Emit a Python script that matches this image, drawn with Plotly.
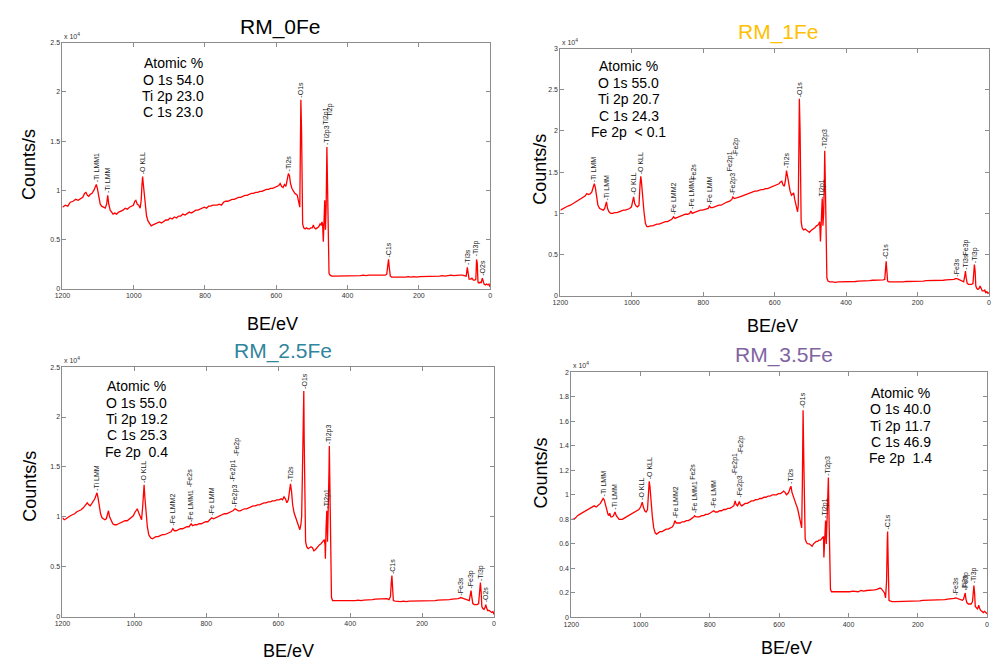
import plotly.graph_objects as go

# ---------------- data (BE in eV, intensity in 10^4 counts/s) ----------------
be_0fe = [1200,1192,1185,1178,1170,1163,1156,1149,1143,1138,1134,1130,1126,1122,1117,1112,1108,1105,1102,1098,
          1094,1090,1085,1080,1076,1073,1070,1066,1062,1058,1053,1048,1042,1036,1030,1024,1018,1012,1006,1001,
          997,994,990,986,982,979,977,975,973,970,967,964,960,956,951,946,940,934,928,922,916,910,904,898,892,
          886,880,874,868,862,856,850,844,838,832,826,820,814,808,802,796,790,784,778,772,766,760,754,748,742,
          736,730,724,718,712,706,700,694,688,682,676,670,664,658,652,646,640,634,628,622,616,610,604,598,593,
          589,585,581,577,573,569,566,563,560,556,552,548,544,541,538,536,534,533,531,529,528,526,523,519,515,
          511,507,503,499,496,493,489,485,481,477,474,472,470,468,466,464,462,460,458,456,454,452,449,444,436,
          428,420,412,404,396,388,380,372,364,356,348,340,332,324,316,308,300,294,290,287,285,283,280,276,270,
          262,254,246,238,230,222,214,206,198,190,182,174,166,158,150,142,134,126,118,110,102,94,86,78,72,67,
          64,62,59,55,51,47,43,40,38,36,34,31,28,25,22,20,17,13,10,6,3,0]
cts_0fe = [0.83,0.85,0.84,0.88,0.89,0.91,0.90,0.92,0.93,0.97,0.98,0.95,0.94,0.96,0.97,1.00,1.04,1.06,1.02,0.92,
           0.86,0.84,0.83,0.82,0.86,0.95,0.86,0.80,0.78,0.76,0.77,0.76,0.78,0.79,0.80,0.82,0.81,0.83,0.84,0.85,
           0.89,0.90,0.86,0.85,0.82,0.90,1.05,1.14,1.06,0.93,0.82,0.74,0.69,0.66,0.64,0.65,0.66,0.67,0.68,0.67,0.69,0.70,0.70,0.72,0.71,
           0.73,0.72,0.74,0.74,0.76,0.75,0.77,0.78,0.77,0.79,0.80,0.80,0.81,0.82,0.83,0.82,0.84,0.84,0.85,0.85,0.85,0.86,0.85,0.88,0.89,
           0.89,0.90,0.91,0.91,0.92,0.93,0.93,0.94,0.95,0.95,0.96,0.97,0.97,0.98,0.98,0.99,0.99,1.00,1.01,1.01,1.02,1.02,1.03,1.04,1.05,
           1.07,1.04,1.03,1.06,1.04,1.10,1.17,1.15,1.07,1.02,0.99,0.97,0.96,0.95,0.90,0.86,0.83,1.20,1.92,1.60,0.80,0.66,0.62,0.61,0.62,
           0.61,0.61,0.62,0.62,0.65,0.62,0.61,0.62,0.63,0.66,0.65,0.68,0.66,0.48,0.70,0.90,0.60,0.85,1.44,1.10,0.50,0.16,0.14,0.13,0.13,
           0.13,0.135,0.13,0.135,0.13,0.135,0.13,0.135,0.135,0.14,0.135,0.14,0.14,0.14,0.14,0.145,0.14,0.14,0.15,0.24,0.30,0.22,0.13,0.12,0.12,
           0.115,0.12,0.12,0.12,0.125,0.12,0.125,0.12,0.125,0.125,0.13,0.125,0.13,0.13,0.13,0.13,0.135,0.13,0.135,0.14,0.135,0.14,0.14,0.14,0.135,0.13,
           0.22,0.18,0.10,0.10,0.11,0.09,0.09,0.10,0.30,0.26,0.07,0.06,0.07,0.06,0.11,0.09,0.05,0.04,0.05,0.04,0.05,0.02]

be_1fe = [1200,1193,1186,1179,1172,1165,1158,1151,1144,1137,1131,1126,1121,1116,1112,1108,1105,1102,1099,1095,
          1090,1085,1080,1076,1073,1071,1068,1064,1059,1054,1048,1042,1036,1030,1024,1018,1012,1006,1001,997,
          995,992,988,984,980,977,975,973,970,966,962,958,953,948,942,936,930,924,918,912,906,900,894,888,883,
          879,874,868,862,856,850,844,838,835,831,826,820,814,808,802,796,790,786,783,779,774,768,762,756,750,
          744,738,732,726,720,717,713,708,703,698,692,686,680,674,668,662,656,650,644,638,632,626,620,614,608,
          602,597,592,588,584,580,577,573,570,567,564,561,557,553,550,547,544,541,538,536,534,532,531,529,528,
          526,523,519,515,511,507,503,499,495,491,487,483,479,476,474,472,470,468,467,465,463,461,460,458,456,
          454,451,446,438,430,422,414,406,398,390,382,374,366,358,350,342,334,326,318,310,302,296,292,290,288,
          286,284,280,272,264,256,248,240,232,224,216,208,200,192,184,176,168,160,152,144,136,128,120,112,104,
          98,94,90,85,80,75,71,68,66,64,61,57,53,49,45,42,41,39,37,34,31,28,25,22,19,15,12,9,6,3,0]
cts_1fe = [1.04,1.06,1.07,1.09,1.10,1.12,1.14,1.15,1.17,1.19,1.21,1.24,1.23,1.24,1.26,1.32,1.36,1.31,1.20,1.10,
           1.06,1.05,1.04,1.06,1.12,1.14,1.06,1.02,1.00,1.00,1.01,1.01,1.02,1.03,1.04,1.04,1.05,1.06,1.08,1.17,
           1.20,1.12,1.09,1.08,1.10,1.35,1.45,1.38,1.20,1.02,0.88,0.84,0.84,0.85,0.85,0.86,0.87,0.87,0.88,0.89,0.90,0.90,0.92,0.93,0.96,
           0.94,0.95,0.96,0.97,0.98,0.99,0.99,1.00,1.03,1.00,1.01,1.02,1.03,1.04,1.04,1.05,1.06,1.06,1.09,1.07,1.07,1.08,1.09,1.10,1.10,
           1.12,1.13,1.14,1.15,1.17,1.20,1.18,1.19,1.20,1.20,1.21,1.22,1.23,1.24,1.25,1.26,1.27,1.27,1.28,1.29,1.29,1.30,1.30,1.31,1.32,
           1.33,1.34,1.35,1.36,1.38,1.39,1.35,1.33,1.40,1.52,1.45,1.34,1.27,1.22,1.24,1.25,1.17,1.10,1.04,1.02,1.10,2.00,2.39,2.00,1.20,
           0.90,0.82,0.80,0.81,0.80,0.78,0.77,0.79,0.80,0.82,0.83,0.85,0.86,0.88,0.90,0.66,0.90,1.05,1.18,0.85,1.00,1.40,1.76,1.30,0.60,
           0.22,0.18,0.17,0.17,0.165,0.17,0.17,0.17,0.175,0.17,0.175,0.175,0.18,0.18,0.18,0.185,0.185,0.19,0.19,0.19,0.195,0.195,0.20,0.30,0.42,
           0.30,0.18,0.17,0.17,0.165,0.17,0.17,0.17,0.175,0.175,0.175,0.18,0.18,0.18,0.18,0.185,0.185,0.185,0.19,0.19,0.19,0.19,0.195,0.195,0.20,
           0.20,0.21,0.21,0.20,0.19,0.18,0.17,0.24,0.30,0.22,0.15,0.14,0.14,0.14,0.15,0.33,0.38,0.30,0.12,0.09,0.08,0.09,0.12,0.09,0.06,0.06,0.07,0.04,0.05,0.03,0.04]

be_25fe = [1200,1195,1190,1184,1178,1172,1166,1160,1154,1148,1142,1136,1131,1127,1123,1119,1115,1110,1106,1104,
           1101,1098,1094,1090,1086,1082,1078,1075,1072,1069,1065,1060,1055,1050,1044,1038,1032,1026,1020,1014,
           1008,1003,999,995,992,988,984,980,977,975,973,971,968,964,960,955,950,945,940,934,928,922,916,910,904,
           898,893,889,884,878,872,866,860,854,848,842,838,832,826,820,814,808,802,796,790,785,780,774,768,762,
           756,750,744,738,732,726,720,716,711,706,700,694,688,682,676,670,664,658,652,646,640,634,628,622,616,
           610,604,598,592,588,584,580,576,572,569,566,563,560,556,552,548,545,542,540,537,535,533,531,529,528,
           526,524,521,517,513,509,505,501,497,493,489,485,481,477,474,472,470,469,467,465,463,461,459,458,456,
           454,452,449,442,434,426,418,410,402,394,386,378,370,362,354,346,338,330,322,314,306,298,292,288,286,
           284,282,280,275,268,260,252,244,236,228,220,212,204,196,188,180,172,164,156,148,140,132,124,116,108,
           100,96,92,88,83,78,73,69,66,64,62,59,55,51,47,43,40,38,36,34,31,28,25,23,21,18,14,10,6,3,0]
cts_25fe = [0.99,0.97,0.98,1.00,1.01,1.02,1.03,1.05,1.06,1.07,1.09,1.12,1.14,1.12,1.11,1.13,1.15,1.18,1.22,1.24,
            1.19,1.10,1.03,0.99,0.98,0.97,0.98,1.03,1.06,1.00,0.96,0.93,0.92,0.92,0.93,0.94,0.95,0.96,0.96,0.98,
            0.99,1.01,1.04,1.07,1.08,1.04,1.00,0.97,1.10,1.25,1.32,1.20,1.05,0.90,0.82,0.79,0.78,0.79,0.80,0.80,0.81,0.82,0.82,0.83,0.84,
            0.85,0.88,0.86,0.86,0.87,0.88,0.88,0.89,0.90,0.90,0.93,0.91,0.92,0.92,0.93,0.93,0.94,0.95,0.95,0.97,0.99,0.98,0.99,1.00,1.01,
            1.02,1.03,1.03,1.04,1.05,1.06,1.08,1.07,1.06,1.06,1.07,1.08,1.08,1.09,1.10,1.11,1.11,1.12,1.12,1.13,1.14,1.14,1.15,1.15,1.16,
            1.16,1.17,1.17,1.18,1.17,1.20,1.18,1.14,1.17,1.25,1.33,1.25,1.12,1.04,1.00,0.96,0.93,0.88,0.87,0.92,1.00,1.40,2.00,2.26,1.80,
            1.00,0.75,0.70,0.68,0.69,0.70,0.69,0.66,0.67,0.69,0.70,0.72,0.73,0.75,0.76,0.77,0.72,0.58,0.90,1.06,0.75,1.00,1.45,1.71,1.20,
            0.50,0.19,0.16,0.16,0.155,0.155,0.16,0.155,0.16,0.16,0.16,0.165,0.16,0.165,0.165,0.17,0.17,0.175,0.175,0.18,0.18,0.18,0.17,0.20,0.33,
            0.41,0.28,0.16,0.155,0.15,0.15,0.155,0.15,0.155,0.155,0.155,0.155,0.155,0.16,0.155,0.16,0.16,0.16,0.165,0.165,0.17,0.17,0.17,0.175,0.175,
            0.18,0.185,0.19,0.185,0.18,0.17,0.165,0.16,0.22,0.26,0.20,0.13,0.12,0.12,0.12,0.13,0.28,0.34,0.25,0.10,0.08,0.07,0.09,0.12,0.09,0.06,0.06,0.05,0.04,0.05,0.02]

be_35fe = [1200,1194,1188,1182,1176,1170,1164,1158,1152,1146,1140,1134,1128,1124,1120,1116,1112,1108,1105,1102,
           1098,1094,1091,1089,1086,1082,1078,1074,1070,1066,1062,1058,1053,1047,1041,1035,1029,1023,1017,1011,
           1005,1000,997,995,992,988,984,980,977,975,973,970,966,962,958,954,950,944,938,932,926,920,914,908,904,
           901,897,892,886,880,874,868,862,856,850,846,844,840,835,830,824,818,812,806,800,794,789,784,778,772,
           766,760,754,748,742,736,731,727,724,720,717,715,712,708,703,698,692,686,680,674,668,662,656,650,644,
           638,632,626,620,614,608,602,596,591,587,583,579,575,571,568,566,563,559,555,551,547,543,540,537,535,
           533,531,529,527,525,521,517,513,509,505,501,497,493,489,485,481,477,474,472,471,469,467,466,464,462,
           460,458,456,454,452,449,444,436,428,420,412,404,396,388,380,372,364,356,348,340,332,324,318,313,309,
           305,300,296,293,290,288,287,285,283,280,274,266,258,250,242,234,226,218,210,202,194,186,178,170,162,
           154,146,138,130,122,114,106,100,95,90,86,81,76,71,68,65,63,61,58,54,50,46,42,40,38,36,34,31,28,26,24,
           22,19,15,11,7,4,0]
cts_35fe = [0.80,0.80,0.81,0.83,0.84,0.85,0.86,0.87,0.88,0.89,0.90,0.91,0.90,0.91,0.92,0.93,0.95,0.97,0.96,0.92,
            0.87,0.84,0.83,0.85,0.82,0.82,0.83,0.86,0.83,0.81,0.80,0.80,0.80,0.81,0.82,0.83,0.84,0.85,0.86,0.87,
            0.88,0.90,0.93,0.94,0.90,0.87,0.86,0.88,1.02,1.11,1.07,0.95,0.82,0.73,0.69,0.68,0.69,0.70,0.70,0.71,0.72,0.72,0.73,0.74,0.76,
            0.79,0.77,0.77,0.77,0.78,0.78,0.79,0.79,0.80,0.81,0.82,0.83,0.82,0.82,0.82,0.83,0.83,0.84,0.84,0.85,0.86,0.87,0.86,0.86,0.87,
            0.87,0.88,0.88,0.89,0.89,0.90,0.91,0.95,0.92,0.91,0.93,0.945,0.92,0.91,0.92,0.93,0.93,0.94,0.95,0.95,0.96,0.96,0.97,0.97,0.98,
            0.98,0.99,0.99,1.00,1.00,1.00,1.01,1.01,1.02,1.03,1.02,1.00,1.01,1.03,1.06,1.07,1.02,0.98,0.95,0.92,0.89,0.84,0.79,0.74,0.73,
            1.10,1.69,1.30,0.75,0.64,0.61,0.60,0.60,0.59,0.58,0.60,0.61,0.62,0.62,0.63,0.63,0.64,0.65,0.66,0.49,0.62,0.75,0.79,0.60,0.75,
            1.00,1.14,0.80,0.40,0.23,0.21,0.21,0.205,0.21,0.21,0.205,0.21,0.21,0.215,0.215,0.21,0.22,0.215,0.22,0.22,0.225,0.225,0.23,0.235,0.24,
            0.235,0.22,0.20,0.16,0.30,0.62,0.70,0.40,0.14,0.135,0.13,0.13,0.13,0.13,0.13,0.135,0.13,0.135,0.135,0.135,0.135,0.14,0.14,0.14,0.14,
            0.14,0.145,0.145,0.145,0.145,0.15,0.15,0.15,0.155,0.16,0.155,0.15,0.145,0.14,0.15,0.19,0.20,0.15,0.12,0.11,0.11,0.11,0.13,0.22,0.26,0.20,0.09,0.08,0.07,0.08,0.10,
            0.08,0.06,0.05,0.04,0.05,0.04,0.03]

# peak labels: text, BE position, label base height (10^4 counts/s)
lab_0fe = ["-Ti LMM1", "-Ti LMM", "-O KLL", "-Ti2s", "-O1s", "-Ti2p3", "Ti2p1", "Ti2p", "-C1s", "-Ti3s", "-Ti3p", "-O2s"]
lab_be_0fe = [1105, 1073, 975, 565, 531, 458, 461, 450, 285, 63, 37, 21]
lab_y_0fe = [1.07, 0.96, 1.15, 1.18, 1.93, 1.45, 1.66, 1.74, 0.31, 0.23, 0.32, 0.12]

lab_1fe = ["-Ti LMM", "-Ti LMM", "-O KLL", "-O KLL", "-Fe LMM2", "-Fe LMM1", "Fe2s", "-Fe LMM", "-Fe2p3", "Fe2p1",
           "-Fe2p", "-Ti2s", "-O1s", "-Ti2p1", "-Ti2p3", "-C1s", "-Fe3s", "-Ti3s", "Fe3p", "-Ti3p"]
lab_be_1fe = [1105, 1071, 995, 975, 883, 835, 828, 783, 717, 725, 706, 567, 531, 466, 460, 288, 90, 66, 64, 41]
lab_y_1fe = [1.37, 1.15, 1.21, 1.46, 0.97, 1.04, 1.40, 1.10, 1.21, 1.50, 1.68, 1.53, 2.40, 1.16, 1.77, 0.43, 0.22, 0.31, 0.48, 0.39]

lab_25fe = ["-Ti LMM", "-O KLL", "-Fe LMM2", "-Fe LMM1", "-Fe2s", "-Fe LMM", "-Fe2p3", "-Fe2p1", "-Fe2p", "-Ti2s",
            "-O1s", "-Ti2p1", "-Ti2p3", "-C1s", "-Fe3s", "-Fe3p", "-Ti3p", "-O2s"]
lab_be_25fe = [1104, 973, 893, 842, 847, 785, 720, 726, 714, 565, 529, 465, 458, 284, 92, 64, 38, 23]
lab_y_25fe = [1.25, 1.33, 0.90, 0.94, 1.29, 1.00, 1.09, 1.34, 1.60, 1.34, 2.27, 1.07, 1.72, 0.42, 0.20, 0.27, 0.35, 0.13]

lab_35fe = ["-Ti LMM", "-Ti LMM", "-O KLL", "-O KLL", "-Fe LMM2", "-Fe LMM1", "Fe2s", "-Fe LMM", "-Fe2p3", "-Fe2p1",
            "-Fe2p", "-Ti2s", "-O1s", "-Ti2p1", "-Ti2p3", "-C1s", "-Fe3s", "-Ti3s", "-Fe3p", "-Ti3p"]
lab_be_35fe = [1108, 1074, 996, 975, 901, 844, 850, 789, 713, 725, 711, 566, 531, 466, 458, 287, 90, 64, 62, 38]
lab_y_35fe = [0.98, 0.87, 0.95, 1.12, 0.80, 0.84, 1.11, 0.88, 0.97, 1.15, 1.32, 1.08, 1.70, 0.80, 1.15, 0.71, 0.17, 0.21, 0.21, 0.27]

titles = ["RM_0Fe", "RM_1Fe", "RM_2.5Fe", "RM_3.5Fe"]
title_colors = ["#000000", "#FFC000", "#31859C", "#8064A2"]
atomic_text = [
    ["Atomic %", "O 1s 54.0", "Ti 2p 23.0", "C 1s 23.0"],
    ["Atomic %", "O 1s 55.0", "Ti 2p 20.7", "C 1s 24.3", "Fe 2p  < 0.1"],
    ["Atomic %", "O 1s 55.0", "Ti 2p 19.2", "C 1s 25.3", "Fe 2p  0.4"],
    ["Atomic %", "O 1s 40.0", "Ti 2p 11.7", "C 1s 46.9", "Fe 2p  1.4"],
]
y_max = [2.5, 3.0, 2.5, 2.0]
y_step = [0.5, 0.5, 0.5, 0.2]
x_ticks = [1200, 1000, 800, 600, 400, 200, 0]

# ---------------- layout (pixel geometry) ----------------
W, H = 995, 667
FONT = "Liberation Sans, Arial, sans-serif"
boxes = [(55, 487, 39, 288), (558, 991, 45, 295), (55, 491, 367, 619), (569, 989, 372, 620)]
title_pos = [(275, 23), (778, 28), (278, 351), (784, 355)]
xlabel_pos = [(267, 323), (772, 325), (283, 654), (786, 651)]
ylabel_pos = [(22, 162), (538, 167), (22, 487), (538, 474)]
atomic_pos = [(167, [60, 76.5, 93, 109.5]), (627, [63, 80, 96.5, 113, 129.5]),
              (130, [386, 403, 419.5, 436, 453]), (902, [393, 409.5, 426, 442.5, 459])]


def px(x, y):
    return x / W, 1 - y / H


series = [(be_0fe, cts_0fe, lab_0fe, lab_be_0fe, lab_y_0fe),
          (be_1fe, cts_1fe, lab_1fe, lab_be_1fe, lab_y_1fe),
          (be_25fe, cts_25fe, lab_25fe, lab_be_25fe, lab_y_25fe),
          (be_35fe, cts_35fe, lab_35fe, lab_be_35fe, lab_y_35fe)]

fig = go.Figure()
annotations = []
layout_axes = {}
for i, (be, cts, labs, lbe, ly) in enumerate(series):
    n = "" if i == 0 else str(i + 1)
    fig.add_trace(go.Scatter(x=be, y=cts, mode="lines", xaxis="x" + n, yaxis="y" + n,
                             line=dict(color="#FF0000", width=1.3), showlegend=False, hoverinfo="skip"))
    x0, x1, y0, y1 = boxes[i]
    ax_common = dict(showline=True, linecolor="#8C8C8C", linewidth=1, mirror="ticks", ticks="inside",
                     ticklen=4, tickcolor="#8C8C8C", showgrid=False, zeroline=False,
                     tickfont=dict(family=FONT, size=7, color="#333333"))
    layout_axes["xaxis" + n] = dict(domain=[x0 / W, x1 / W], range=[1200, 0], anchor="y" + n,
                                    tickvals=x_ticks, ticktext=[str(v) for v in x_ticks], **ax_common)
    yt = [round(k * y_step[i], 2) for k in range(int(round(y_max[i] / y_step[i])) + 1)]
    layout_axes["yaxis" + n] = dict(domain=[1 - y1 / H, 1 - y0 / H], range=[0, y_max[i]], anchor="x" + n,
                                    tickvals=yt, ticktext=[("%g" % v) for v in yt], **ax_common)
    # peak labels
    for t, b, yy in zip(labs, lbe, ly):
        annotations.append(dict(x=b, y=yy, xref="x" + n, yref="y" + n, text=t, textangle=-90,
                                showarrow=False, xanchor="center", yanchor="bottom", borderpad=0,
                                font=dict(family=FONT, size=7, color="#222222")))
    # exponent
    ex, ey = px(x0, y0 - 1)
    annotations.append(dict(x=ex, y=ey, xref="paper", yref="paper", text="x 10<sup>4</sup>",
                            showarrow=False, xanchor="left", yanchor="bottom",
                            font=dict(family=FONT, size=7, color="#333333")))
    # title
    tx, ty = px(*title_pos[i])
    annotations.append(dict(x=tx, y=ty, xref="paper", yref="paper", text=titles[i], showarrow=False,
                            xanchor="center", yanchor="middle",
                            font=dict(family=FONT, size=21, color=title_colors[i])))
    # axis titles
    bx, by = px(*xlabel_pos[i])
    annotations.append(dict(x=bx, y=by, xref="paper", yref="paper", text="BE/eV", showarrow=False,
                            xanchor="center", yanchor="middle", font=dict(family=FONT, size=18, color="#000000")))
    cx, cy = px(*ylabel_pos[i])
    annotations.append(dict(x=cx, y=cy, xref="paper", yref="paper", text="Counts/s", showarrow=False,
                            textangle=-90, xanchor="center", yanchor="middle",
                            font=dict(family=FONT, size=18, color="#000000")))
    # atomic % box
    ax_c, ys = atomic_pos[i]
    for line, yy in zip(atomic_text[i], ys):
        a, b2 = px(ax_c, yy)
        annotations.append(dict(x=a, y=b2, xref="paper", yref="paper", text=line, showarrow=False,
                                xanchor="center", yanchor="middle",
                                font=dict(family=FONT, size=14, color="#000000")))

fig.update_layout(width=W, height=H, margin=dict(l=0, r=0, t=0, b=0), paper_bgcolor="white",
                  plot_bgcolor="white", annotations=annotations, **layout_axes)
fig.write_html("out.html", config={"displayModeBar": False, "staticPlot": True},
               post_script="document.body.style.margin='0';document.body.style.overflow='hidden';")
